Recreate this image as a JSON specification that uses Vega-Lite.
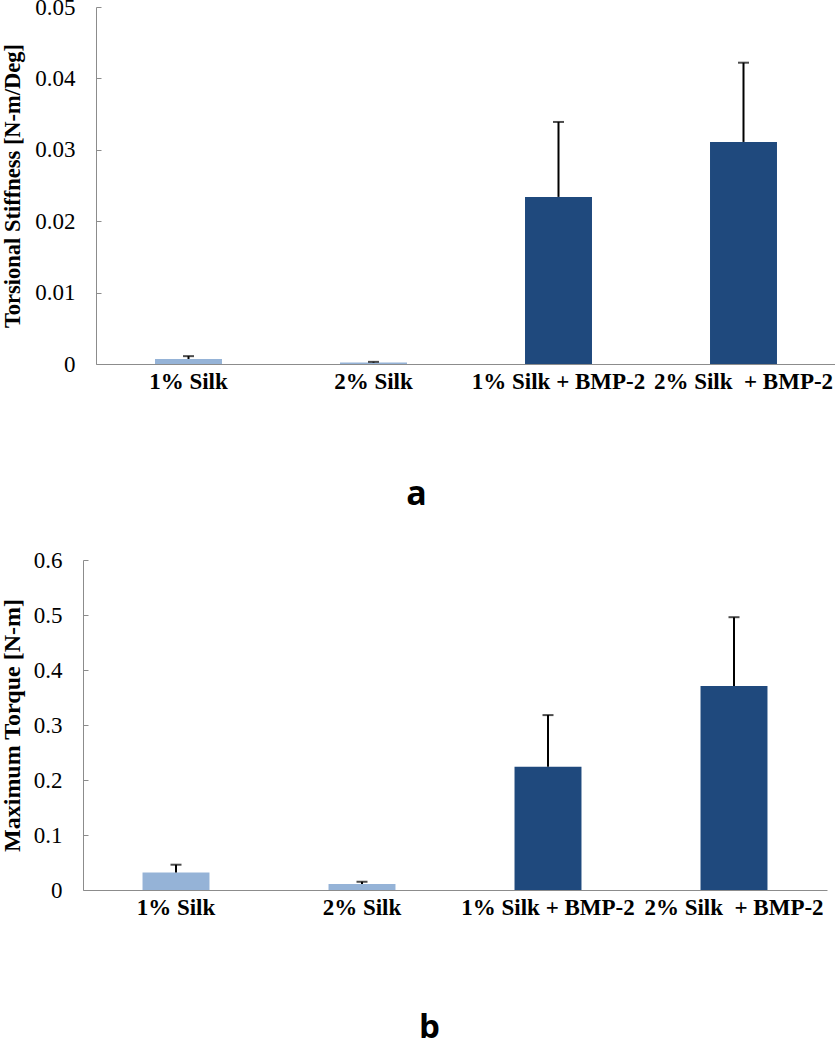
{
  "$schema": "https://vega.github.io/schema/vega-lite/v6.json",
  "padding": {"left": 0, "top": -4, "right": 0, "bottom": 4},
  "background": "white",
  "spacing": 38,
  "config": {
    "view": {"stroke": null},
    "axis": {"grid": false, "domainColor": "#8c8c8c", "tickColor": "#8c8c8c", "labelFont": "Liberation Serif", "titleFont": "Liberation Serif", "labelColor": "black", "titleColor": "black"}
  },
  "datasets": {
    "stiff": [
      {"group": "1% Silk", "kind": "plain", "mean": 0.0007, "upper": 0.0011},
      {"group": "2% Silk", "kind": "plain", "mean": 0.0002, "upper": 0.0003},
      {"group": "1% Silk + BMP-2", "kind": "bmp", "mean": 0.0234, "upper": 0.0339},
      {"group": "2% Silk\u00a0 + BMP-2", "kind": "bmp", "mean": 0.0311, "upper": 0.0422}
    ],
    "torque": [
      {"group": "1% Silk", "kind": "plain", "mean": 0.032, "upper": 0.046},
      {"group": "2% Silk", "kind": "plain", "mean": 0.011, "upper": 0.015},
      {"group": "1% Silk + BMP-2", "kind": "bmp", "mean": 0.224, "upper": 0.318},
      {"group": "2% Silk\u00a0 + BMP-2", "kind": "bmp", "mean": 0.371, "upper": 0.496}
    ]
  },
  "vconcat": [
    {
      "width": 753,
      "height": 357,
      "data": {"name": "stiff"},
      "encoding": {
        "x": {"field": "group", "type": "nominal", "sort": null,
          "scale": {"paddingInner": 0, "paddingOuter": 0, "range": [13, 753]},
          "axis": {"title": "a", "titleFont": "Open Sans", "titleFontWeight": "bold", "titleFontSize": 34, "titleX": 333, "titlePadding": 84,
            "labelAngle": 0, "labelFontSize": 23, "labelFontWeight": "bold", "labelOverlap": false, "labelLimit": 0, "labelPadding": 6, "ticks": false}}
      },
      "layer": [
        {"mark": {"type": "bar", "width": {"band": 0.362}},
         "encoding": {
           "y": {"field": "mean", "type": "quantitative", "scale": {"domain": [0, 0.05]},
             "axis": {"title": "Torsional Stiffness [N-m/Deg]", "titleFontSize": 22.5, "titleFontWeight": "bold", "titlePadding": 10, "offset": -13,
               "values": [0, 0.01, 0.02, 0.03, 0.04, 0.05], "format": "~g", "labelFontSize": 23, "tickSize": -5, "labelPadding": 26, "minExtent": 62, "maxExtent": 62}},
           "color": {"field": "kind", "type": "nominal", "scale": {"domain": ["plain", "bmp"], "range": ["#95b3d7", "#1f497d"]}, "legend": null}
         }},
        {"mark": {"type": "rule", "color": "black", "strokeWidth": 2},
         "encoding": {"y": {"field": "mean", "type": "quantitative"}, "y2": {"field": "upper"}}},
        {"mark": {"type": "tick", "color": "black", "thickness": 2, "size": 11, "orient": "horizontal"},
         "encoding": {"y": {"field": "upper", "type": "quantitative"}}}
      ]
    },
    {
      "width": 744,
      "height": 330,
      "data": {"name": "torque"},
      "encoding": {
        "x": {"field": "group", "type": "nominal", "sort": null,
          "scale": {"paddingInner": 0, "paddingOuter": 0},
          "axis": {"title": "b", "titleFont": "Open Sans", "titleFontWeight": "bold", "titleFontSize": 33, "titleX": 346, "titlePadding": 92,
            "labelAngle": 0, "labelFontSize": 23, "labelFontWeight": "bold", "labelOverlap": false, "labelLimit": 0, "labelPadding": 6, "ticks": false}}
      },
      "layer": [
        {"mark": {"type": "bar", "width": {"band": 0.36}},
         "encoding": {
           "y": {"field": "mean", "type": "quantitative", "scale": {"domain": [0, 0.6]},
             "axis": {"title": "Maximum Torque [N-m]", "titleFontSize": 24, "titleFontWeight": "bold", "titlePadding": 10,
               "values": [0, 0.1, 0.2, 0.3, 0.4, 0.5, 0.6], "format": "~g", "labelFontSize": 23, "tickSize": -5, "labelPadding": 26, "minExtent": 49, "maxExtent": 49}},
           "color": {"field": "kind", "type": "nominal", "scale": {"domain": ["plain", "bmp"], "range": ["#95b3d7", "#1f497d"]}, "legend": null}
         }},
        {"mark": {"type": "rule", "color": "black", "strokeWidth": 2},
         "encoding": {"y": {"field": "mean", "type": "quantitative"}, "y2": {"field": "upper"}}},
        {"mark": {"type": "tick", "color": "black", "thickness": 2, "size": 11, "orient": "horizontal"},
         "encoding": {"y": {"field": "upper", "type": "quantitative"}}}
      ]
    }
  ]
}
